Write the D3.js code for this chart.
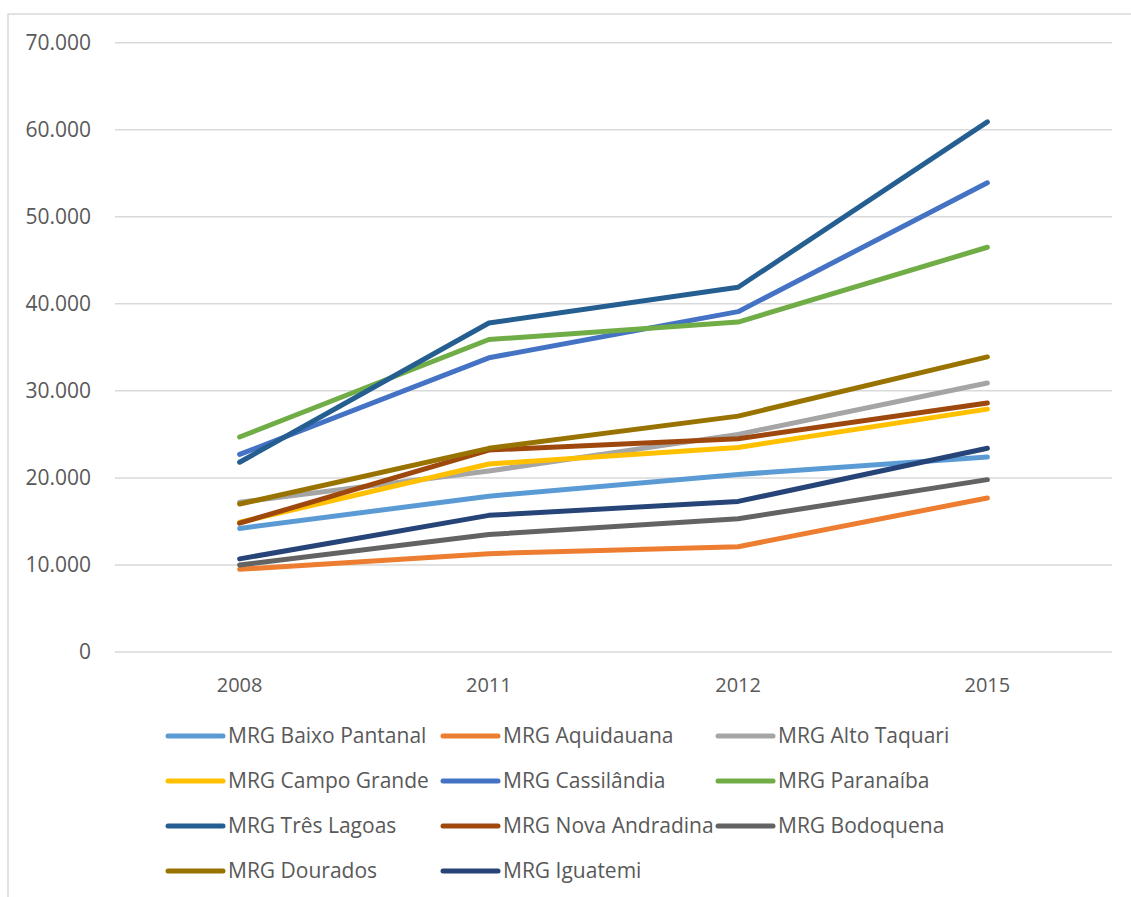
<!DOCTYPE html>
<html>
<head>
<meta charset="utf-8">
<script src="https://cdn.jsdelivr.net/npm/d3@7"></script>
<style>
  body { margin: 0; background: #fff; }
  text { font-family: "Open Sans", "Noto Sans", sans-serif; fill: #595959; }
</style>
</head>
<body>
<script>
'use strict'

const width = 1131
const height = 897

const years = ['2008', '2011', '2012', '2015']
const yTicks = [0, 10000, 20000, 30000, 40000, 50000, 60000, 70000]

const seriesNames = [
    'MRG Baixo Pantanal', 'MRG Aquidauana', 'MRG Alto Taquari',
    'MRG Campo Grande', 'MRG Cassilândia', 'MRG Paranaíba',
    'MRG Três Lagoas', 'MRG Nova Andradina', 'MRG Bodoquena',
    'MRG Dourados', 'MRG Iguatemi'
]
const seriesColors = [
    '#5B9BD5', '#ED7D31', '#A5A5A5',
    '#FFC000', '#4472C4', '#70AD47',
    '#255E91', '#9E480E', '#636363',
    '#997300', '#264478'
]

// values per series, in the order of years
const baixoPantanal = [14200, 17900, 20400, 22400]
const aquidauana = [9500, 11300, 12100, 17700]
const altoTaquari = [17200, 20800, 25000, 30900]
const campoGrande = [14900, 21600, 23500, 27900]
const cassilandia = [22700, 33800, 39100, 53900]
const paranaiba = [24700, 35900, 37900, 46500]
const tresLagoas = [21800, 37800, 41900, 60900]
const novaAndradina = [14800, 23200, 24500, 28600]
const bodoquena = [10000, 13500, 15300, 19800]
const dourados = [17000, 23400, 27100, 33900]
const iguatemi = [10700, 15700, 17300, 23400]

const seriesValues = [
    baixoPantanal, aquidauana, altoTaquari, campoGrande, cassilandia, paranaiba,
    tresLagoas, novaAndradina, bodoquena, dourados, iguatemi
]

const svg = d3.select('body').append('svg')
    .attr('width', width).attr('height', height)

// outer frame of the chart area
svg.append('rect')
    .attr('x', 8).attr('y', 14)
    .attr('width', 1400).attr('height', 1200)
    .attr('fill', 'none')
    .attr('stroke', '#d9d9d9')
    .attr('stroke-width', 1.5)

const x = d3.scalePoint().domain(years).range([115, 1112]).padding(0.5)
const y = d3.scaleLinear().domain([0, 70000]).range([652, 42.7])

const fmt = d => d === 0 ? '0' : d3.format(',')(d).replace(/,/g, '.')

// gridlines
svg.append('g')
    .selectAll('line')
    .data(yTicks)
    .join('line')
    .attr('x1', 115).attr('x2', 1112)
    .attr('y1', d => y(d)).attr('y2', d => y(d))
    .attr('stroke', '#d9d9d9')
    .attr('stroke-width', 1.5)

// y labels
svg.append('g')
    .selectAll('text')
    .data(yTicks)
    .join('text')
    .attr('x', 91)
    .attr('y', d => y(d))
    .attr('dy', '0.35em')
    .attr('text-anchor', 'end')
    .style('font-size', '21px')
    .text(fmt)

// x labels
svg.append('g')
    .selectAll('text')
    .data(years)
    .join('text')
    .attr('x', d => x(d))
    .attr('y', 685)
    .attr('dy', '0.35em')
    .attr('text-anchor', 'middle')
    .style('font-size', '20px')
    .text(d => d)

const line = d3.line()
    .x((d, i) => x(years[i]))
    .y(d => y(d))

svg.append('g')
    .selectAll('path')
    .data(seriesValues)
    .join('path')
    .attr('d', line)
    .attr('fill', 'none')
    .attr('stroke', (d, i) => seriesColors[i])
    .attr('stroke-width', 5)
    .attr('stroke-linecap', 'round')
    .attr('stroke-linejoin', 'round')

// legend, 3 columns
const legend = svg.append('g')
    .selectAll('g')
    .data(seriesNames)
    .join('g')
    .attr('transform', (d, i) => `translate(${168 + (i % 3) * 275},${736 + Math.floor(i / 3) * 45})`)

legend.append('line')
    .attr('x1', 0).attr('x2', 55)
    .attr('stroke', (d, i) => seriesColors[i])
    .attr('stroke-width', 5)
    .attr('stroke-linecap', 'round')

legend.append('text')
    .attr('x', 60)
    .attr('dy', '0.35em')
    .style('font-size', '21px')
    .text(d => d)
</script>
</body>
</html>
